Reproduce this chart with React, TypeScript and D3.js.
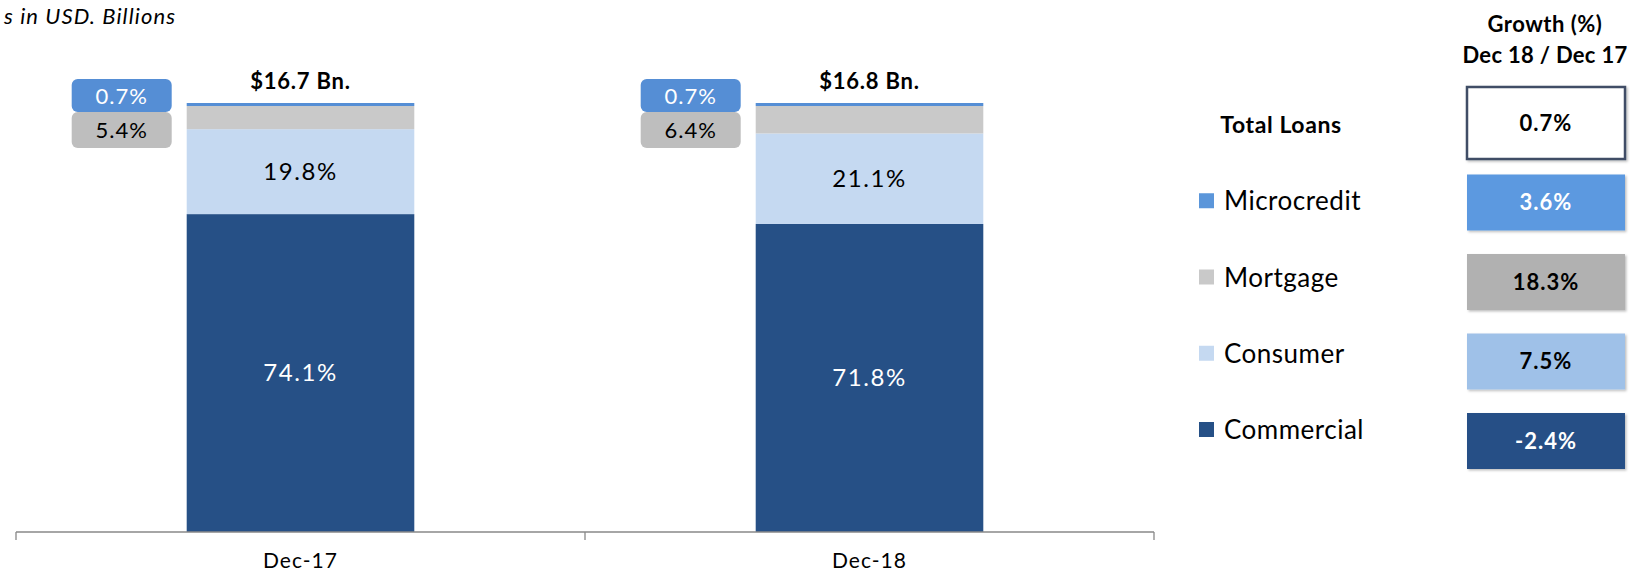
import React from "react";
import * as d3 from "d3";

// loan portfolio composition, % of total
const categories = ["Dec-17", "Dec-18"];
const commercial = [74.1, 71.8];
const consumer = [19.8, 21.1];
const mortgage = [5.4, 6.4];
const microcredit = [0.7, 0.7];
const totals = ["$16.7 Bn.", "$16.8 Bn."];

// growth table Dec 18 / Dec 17
const growthLabels = ["Total Loans", "Microcredit", "Mortgage", "Consumer", "Commercial"];
const growthValues = [0.7, 3.6, 18.3, 7.5, -2.4];

const W = 1630;
const H = 571;
const FONT = "Lato, 'Liberation Sans', sans-serif";

const seriesKeys = ["commercial", "consumer", "mortgage", "microcredit"];
const segFill: Record<string, string> = {
  commercial: "#265086",
  consumer: "#C5D9F1",
  mortgage: "#C9C9C9",
  microcredit: "#558ED5",
};
const legendFill: Record<string, string> = {
  Microcredit: "#5B96DA",
  Mortgage: "#C9C9C9",
  Consumer: "#C5D9F1",
  Commercial: "#265086",
};
const boxFill: Record<string, string> = {
  "Total Loans": "#FFFFFF",
  Microcredit: "#5B99E0",
  Mortgage: "#B1B1B1",
  Consumer: "#9FC1E8",
  Commercial: "#265086",
};
const boxText: Record<string, string> = {
  "Total Loans": "#000",
  Microcredit: "#fff",
  Mortgage: "#000",
  Consumer: "#000",
  Commercial: "#fff",
};

export default function App() {
  const rows = categories.map((c, i) => ({
    cat: c,
    commercial: commercial[i],
    consumer: consumer[i],
    mortgage: mortgage[i],
    microcredit: microcredit[i],
  }));
  const stacked = d3.stack<any>().keys(seriesKeys)(rows);

  const x = d3
    .scaleBand()
    .domain(categories)
    .range([16, 1154])
    .paddingInner(0.6)
    .paddingOuter(0.3);
  const y = d3.scaleLinear().domain([0, 100]).range([532, 103]);

  const step = x.step();
  const ticks = [16, 16 + step, 16 + 2 * step];

  const legendY = d3.scalePoint().domain(growthLabels).range([125, 430]);
  const boxY = d3.scalePoint().domain(growthLabels).range([123, 441]);
  const fmt = (v: number) => `${v.toFixed(1)}%`;

  return (
    <svg width={W} height={H} style={{ position: "absolute", left: 0, top: 0 }} fontFamily={FONT}>
      <defs>
        <filter id="sh" x="-10%" y="-10%" width="130%" height="140%">
          <feDropShadow dx="1.5" dy="1.5" stdDeviation="1.2" floodColor="#000" floodOpacity="0.25" />
        </filter>
      </defs>
      <text x={4} y={24} fontSize={22} fontStyle="italic" letterSpacing={1.1} fill="#000">
        s in USD. Billions
      </text>

      {/* stacked bars */}
      {stacked.map((s) => (
        <g key={s.key}>
          {s.map((d, i) => (
            <rect
              key={i}
              x={x(categories[i])!}
              width={x.bandwidth()}
              y={y(d[1])}
              height={y(d[0]) - y(d[1])}
              fill={segFill[s.key]}
            />
          ))}
        </g>
      ))}

      {/* in-bar labels for commercial and consumer */}
      {stacked
        .filter((s) => s.key === "commercial" || s.key === "consumer")
        .map((s) =>
          s.map((d, i) => (
            <text
              key={s.key + i}
              x={x(categories[i])! + x.bandwidth() / 2}
              y={(y(d[0]) + y(d[1])) / 2}
              dy="0.35em"
              textAnchor="middle"
              fontSize={24}
              letterSpacing={1.6}
              fill={s.key === "commercial" ? "#fff" : "#000"}
            >
              {fmt(d.data[s.key])}
            </text>
          ))
        )}

      {/* totals */}
      {categories.map((c, i) => (
        <text
          key={c}
          x={x(c)! + x.bandwidth() / 2}
          y={y(100) - 22}
          dy="0.35em"
          textAnchor="middle"
          fontSize={22}
          letterSpacing={0.8}
          fontWeight="bold"
        >
          {totals[i]}
        </text>
      ))}

      {/* callouts for microcredit and mortgage */}
      {categories.map((c, i) => {
        const bx = x(c)! - 115;
        return (
          <g key={c}>
            <rect x={bx} y={112} width={100} height={36} rx={6} fill="#BEBEBE" />
            <text x={bx + 50} y={130} dy="0.35em" textAnchor="middle" fontSize={22} letterSpacing={1} fill="#000">
              {fmt(mortgage[i])}
            </text>
            <rect x={bx} y={79} width={100} height={33} rx={6} fill="#558ED5" />
            <text x={bx + 50} y={96} dy="0.35em" textAnchor="middle" fontSize={22} letterSpacing={1} fill="#fff">
              {fmt(microcredit[i])}
            </text>
          </g>
        );
      })}

      {/* axis */}
      <line x1={ticks[0]} x2={ticks[2]} y1={532} y2={532} stroke="#888" strokeWidth={1.3} />
      {ticks.map((t) => (
        <line key={t} x1={t} x2={t} y1={532} y2={540} stroke="#888" strokeWidth={1.3} />
      ))}
      {categories.map((c) => (
        <text
          key={c}
          x={x(c)! + x.bandwidth() / 2}
          y={561}
          dy="0.35em"
          textAnchor="middle"
          fontSize={21}
          letterSpacing={1}
        >
          {c}
        </text>
      ))}

      {/* growth table */}
      <text x={1545} y={24} dy="0.35em" textAnchor="middle" fontSize={22} fontWeight="bold" letterSpacing={0.5}>
        Growth (%)
      </text>
      <text x={1545} y={55} dy="0.35em" textAnchor="middle" fontSize={22} fontWeight="bold" letterSpacing={0.3}>
        Dec 18 / Dec 17
      </text>
      {growthLabels.map((g, i) => {
        const first = i === 0;
        const bh = first ? 72 : 56;
        const cy = boxY(g)!;
        return (
          <g key={g}>
            {first ? (
              <text
                x={1281}
                y={legendY(g)!}
                dy="0.35em"
                textAnchor="middle"
                fontSize={23}
                letterSpacing={0.6}
                fontWeight="bold"
              >
                {g}
              </text>
            ) : (
              <g>
                <rect x={1199} y={legendY(g)! - 8} width={15} height={15} fill={legendFill[g]} />
                <text x={1224} y={legendY(g)!} dy="0.35em" fontSize={26} letterSpacing={0.5}>
                  {g}
                </text>
              </g>
            )}
            <rect
              x={1467}
              y={cy - bh / 2}
              width={158}
              height={bh}
              fill={boxFill[g]}
              stroke={first ? "#3F4E66" : "none"}
              strokeWidth={first ? 2.5 : 0}
              filter="url(#sh)"
            />
            <text
              x={1546}
              y={cy}
              dy="0.35em"
              textAnchor="middle"
              fontSize={22}
              letterSpacing={1}
              fontWeight="bold"
              fill={boxText[g]}
            >
              {fmt(growthValues[i])}
            </text>
          </g>
        );
      })}
    </svg>
  );
}
